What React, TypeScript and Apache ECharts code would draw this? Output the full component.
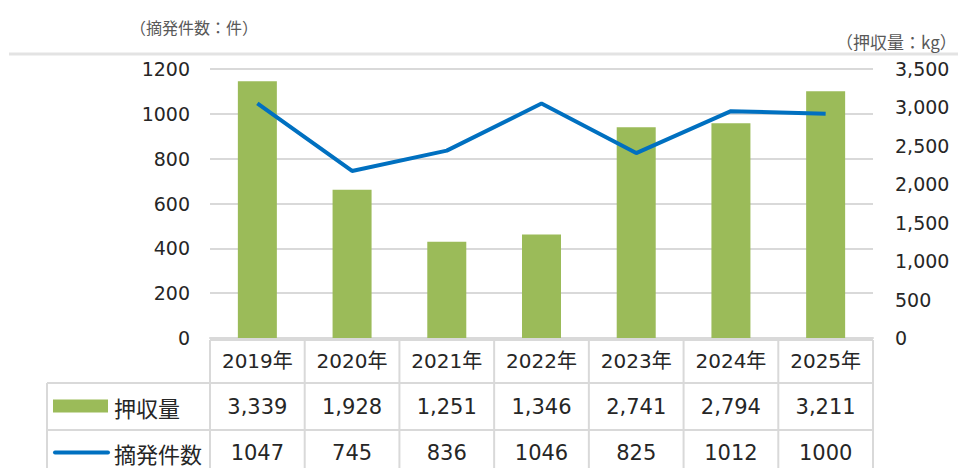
import React, { useEffect, useRef } from "react";
import * as echarts from "echarts";

const categories = ["2019年", "2020年", "2021年", "2022年", "2023年", "2024年", "2025年"];
const seizureKg = [3339, 1928, 1251, 1346, 2741, 2794, 3211];
const caseCounts = [1047, 745, 836, 1046, 825, 1012, 1000];
const seriesNames = ["押収量", "摘発件数"];
const leftUnit = "（摘発件数：件）";
const rightUnit = "（押収量：kg）";

const GREEN = "#9BBB59";
const BLUE = "#0070C0";
const GRID = "#D9D9D9";
const TEXT = "#262626";
const FONT = "DejaVu Sans, Noto Sans CJK JP, sans-serif";
const CJK = "Noto Sans CJK JP, sans-serif";

export default function App() {
  const ref = useRef<HTMLDivElement>(null);
  useEffect(() => {
    document.body.style.margin = "0";
    const chart = echarts.init(ref.current!, null, { renderer: "svg" });
    chart.setOption({
      animation: false,
      grid: { left: 210, right: 85, top: 69, bottom: 130 },
      xAxis: {
        type: "category",
        data: categories,
        axisLine: { show: true, lineStyle: { color: GRID, width: 2 } },
        axisTick: { show: false },
        axisLabel: {
          interval: 0,
          hideOverlap: false,
          margin: 12,
          fontSize: 20,
          lineHeight: 22,
          color: TEXT,
          fontFamily: FONT,
        },
      },
      yAxis: [
        {
          type: "value",
          min: 0,
          max: 1200,
          interval: 200,
          axisLine: { show: false },
          axisTick: { show: false },
          axisLabel: {
            margin: 20,
            fontSize: 19,
            color: TEXT,
            fontFamily: FONT,
            formatter: (v: number) => String(v),
          },
          splitLine: { show: true, lineStyle: { color: GRID, width: 2 } },
        },
        {
          type: "value",
          min: 0,
          max: 3500,
          interval: 500,
          position: "right",
          axisLine: { show: false },
          axisTick: { show: false },
          axisLabel: {
            margin: 22,
            fontSize: 19,
            color: TEXT,
            fontFamily: FONT,
            formatter: (v: number) => v.toLocaleString("en-US"),
          },
          splitLine: { show: false },
        },
      ],
      series: [
        {
          name: seriesNames[0],
          type: "bar",
          yAxisIndex: 1,
          data: seizureKg,
          barWidth: 39,
          itemStyle: { color: GREEN },
        },
        {
          name: seriesNames[1],
          type: "line",
          yAxisIndex: 0,
          data: caseCounts,
          symbol: "none",
          lineStyle: { color: BLUE, width: 4 },
        },
      ],
    });

    const xs = categories.map((c) => chart.convertToPixel({ xAxisIndex: 0 }, c) as number);
    const colW = xs[1] - xs[0];
    const gLeft = xs[0] - colW / 2;
    const gRight = xs[xs.length - 1] + colW / 2;
    const y0 = chart.convertToPixel({ yAxisIndex: 0 }, 0) as number;
    const r0 = y0 + 2;
    const r1 = r0 + 43;
    const r2 = r1 + 47;
    const r3 = r2 + 47;
    const tLeft = 47;
    const lineStyle = { stroke: GRID, lineWidth: 2 };
    const els: any[] = [];
    els.push({ type: "line", shape: { x1: 9, y1: 54, x2: 958, y2: 54 }, style: { stroke: "#E3E3E3", lineWidth: 3 } });
    for (let k = 0; k <= categories.length; k++) {
      const x = gLeft + k * colW;
      els.push({ type: "line", shape: { x1: x, y1: r0, x2: x, y2: r3 }, style: lineStyle });
    }
    els.push({ type: "line", shape: { x1: tLeft, y1: r1, x2: tLeft, y2: r3 }, style: lineStyle });
    els.push({ type: "line", shape: { x1: gLeft, y1: r0, x2: gRight, y2: r0 }, style: lineStyle });
    els.push({ type: "line", shape: { x1: tLeft, y1: r1, x2: gRight, y2: r1 }, style: lineStyle });
    els.push({ type: "line", shape: { x1: tLeft, y1: r2, x2: gRight, y2: r2 }, style: lineStyle });
    const m1 = (r1 + r2) / 2;
    const m2 = (r2 + r3) / 2 - 1;
    const tStyle = { fill: TEXT, font: `21px ${FONT}`, align: "center", verticalAlign: "middle" };
    categories.forEach((_, i) => {
      els.push({ type: "text", x: xs[i], y: m1, style: { ...tStyle, text: seizureKg[i].toLocaleString("en-US") } });
      els.push({ type: "text", x: xs[i], y: m2, style: { ...tStyle, text: String(caseCounts[i]) } });
    });
    els.push({ type: "rect", shape: { x: 53, y: m1 - 7, width: 55, height: 13 }, style: { fill: GREEN } });
    els.push({ type: "line", shape: { x1: 55, y1: m2, x2: 108, y2: m2 }, style: { stroke: BLUE, lineWidth: 4, lineCap: "round" } });
    els.push({ type: "text", x: 114, y: m1, style: { ...tStyle, align: "left", font: `22px ${CJK}`, text: seriesNames[0] } });
    els.push({ type: "text", x: 114, y: m2, style: { ...tStyle, align: "left", font: `22px ${CJK}`, text: seriesNames[1] } });
    els.push({ type: "text", x: 130, y: 27, style: { fill: "#595959", font: `16px ${CJK}`, text: leftUnit, verticalAlign: "middle" } });
    els.push({ type: "text", x: 836, y: 41, style: { fill: "#595959", font: `17px ${CJK}`, text: rightUnit, verticalAlign: "middle" } });
    chart.setOption({ graphic: { elements: els } });
    return () => chart.dispose();
  }, []);
  return <div ref={ref} style={{ width: 958, height: 468 }} />;
}
